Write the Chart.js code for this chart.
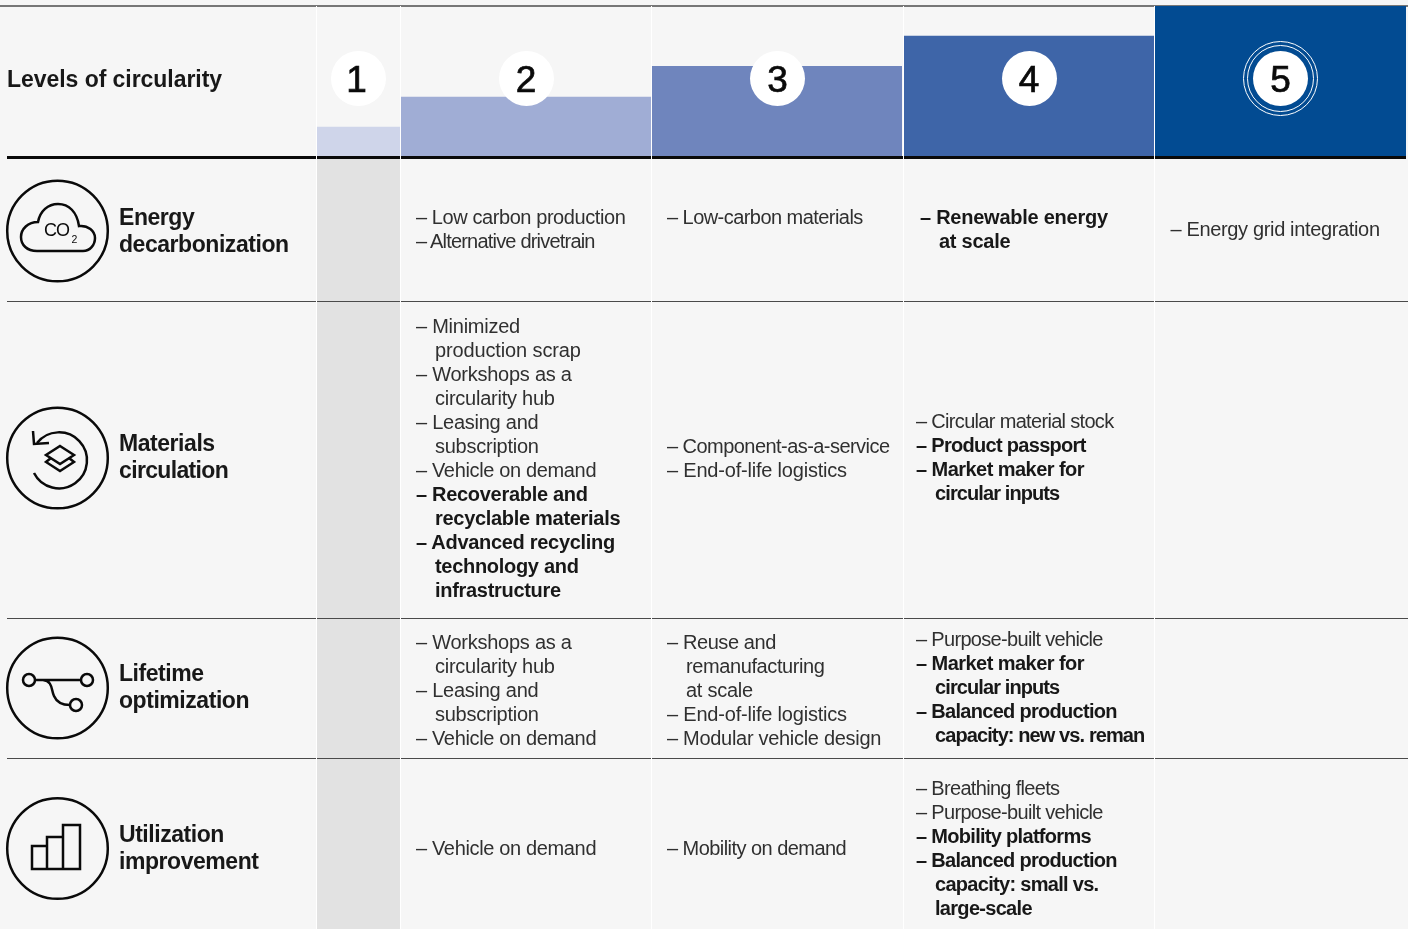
<!DOCTYPE html>
<html>
<head>
<meta charset="utf-8">
<title>Levels of circularity</title>
<script src="https://cdn.jsdelivr.net/npm/chart.js@4"></script>
<style>
    html, body { margin: 0; padding: 0; background: #f6f6f6; overflow: hidden; }
    #page { position: relative; width: 1408px; height: 929px; overflow: hidden;
            font-family: "Liberation Sans", sans-serif; color: #1c1c1c; }
    #page > * { position: absolute; }
    .rule { height: 1px; background: #4a4a4a; left: 7px; width: 1401px; }
    .gap { width: 1px; top: 6px; height: 923px; background: #fff; }
    .line { font-size: 20px; line-height: 24px; height: 24px; white-space: nowrap; color: #303030; }
    .line.bold { font-weight: bold; color: #181818; }
    .head { font-size: 23px; line-height: 27px; font-weight: bold; color: #181818; letter-spacing: -0.45px; white-space: nowrap; }
    .disc { width: 55px; height: 55px; border-radius: 50%; background: #fff; text-align: center;
            font-size: 37px; line-height: 57px; color: #0a0a0a; -webkit-text-stroke: 0.7px #0a0a0a; }
    .ring { border-radius: 50%; border: 1.5px solid #fff; box-sizing: border-box; }
    canvas { display: block; }
</style>
</head>
<body>
<div id="page">
    <div style="left:317px;top:157px;width:83px;height:772px;background:#e2e2e2"></div>
    <div style="left:0;top:5px;width:1408px;height:1.5px;background:#777"></div>
    <div id="bars"></div>
    <div style="left:7px;top:156px;width:1399px;height:2.5px;background:#0a0a0a"></div>
    <div class="rule" style="top:301px"></div>
    <div class="rule" style="top:618px"></div>
    <div class="rule" style="top:758px"></div>
    <svg style="left:0;top:0" width="1408" height="929" fill="none" stroke="#0a0a0a" stroke-width="2.5">
        <circle cx="57.5" cy="231" r="50.3"/>
        <circle cx="57.5" cy="458" r="50.3"/>
        <circle cx="57.5" cy="688" r="50.3"/>
        <circle cx="57.5" cy="848.5" r="50.3"/>
        <path d="M37 251C27 251 21 245 21 237C21 229 28 222 38 222C40 211 48 204 58 204C69 204 77 212 79 226C88 225 95 231 95 238C95 245 90 251 83 251Z"/>
        <text x="44" y="236" font-family="Liberation Sans" font-size="18" letter-spacing="-1" fill="#0a0a0a" stroke="none">CO</text>
        <text x="71.5" y="242.5" font-family="Liberation Sans" font-size="10.5" fill="#0a0a0a" stroke="none">2</text>
        <path d="M34 473A28 28 0 1 0 37 443"/>
        <path d="M33 431L34 444L49 443"/>
        <path d="M60 446L74 455L60 464L46 455Z"/>
        <path d="M51 458L46 462L60 471L74 462L69 458"/>
        <circle cx="29" cy="680" r="6"/>
        <circle cx="87" cy="680" r="6"/>
        <circle cx="76" cy="705" r="6"/>
        <path d="M35 680H81M43 680C53 681 51 690 54 696C57 703 63 705 70 705"/>
        <path d="M32 869V846H47V869ZM47 869V837H63V869ZM63 869V825H80V869Z"/>
    </svg>
</div>
<script>
    const levels = ['1', '2', '3', '4', '5'];
    const levelValues = [0.99, 1.98, 3, 4, 5];
    const levelColors = ['#cfd5ea', '#a0add5', '#6f85bd', '#3e65a8', '#024b92'];

    const title = 'Levels of circularity';
    const dimensions = [
        ['Energy', 'decarbonization'],
        ['Materials', 'circulation'],
        ['Lifetime', 'optimization'],
        ['Utilization', 'improvement']
    ];

    // '*' in front of a line = bold, '  ' = continuation line
    const energyCells = [
        ['– Low carbon production', '– Alternative drivetrain'],
        ['– Low-carbon materials'],
        ['*– Renewable energy', '*  at scale'],
        ['– Energy grid integration']
    ];
    const materialsCells = [
        ['– Minimized', '  production scrap', '– Workshops as a', '  circularity hub', '– Leasing and', '  subscription',
         '– Vehicle on demand', '*– Recoverable and', '*  recyclable materials', '*– Advanced recycling',
         '*  technology and', '*  infrastructure'],
        ['– Component-as-a-service', '– End-of-life logistics'],
        ['– Circular material stock', '*– Product passport', '*– Market maker for', '*  circular inputs'],
        []
    ];
    const lifetimeCells = [
        ['– Workshops as a', '  circularity hub', '– Leasing and', '  subscription', '– Vehicle on demand'],
        ['– Reuse and', '  remanufacturing', '  at scale', '– End-of-life logistics', '– Modular vehicle design'],
        ['– Purpose-built vehicle', '*– Market maker for', '*  circular inputs', '*– Balanced production', '*  capacity: new vs. reman'],
        []
    ];
    const utilizationCells = [
        ['– Vehicle on demand'],
        ['– Mobility on demand'],
        ['– Breathing fleets', '– Purpose-built vehicle', '*– Mobility platforms', '*– Balanced production',
         '*  capacity: small vs.', '*  large-scale'],
        []
    ];
    const cells = [energyCells, materialsCells, lifetimeCells, utilizationCells];

    // layout
    const colEdges = [[317, 400], [401, 651], [652, 902], [904, 1154], [1155, 1406]];
    const discCenters = [358, 526, 777.5, 1029, 1280.5];
    const gapXs = [316, 400, 651, 903, 1154];
    const textLefts = [416, 667, 916, 1170.5];
    const headTops = [204, 430, 660, 821];
    const cellTops = [
        [205, 205, 205, 217],
        [314, 434, 409, 0],
        [630, 630, 627, 0],
        [836, 836, 776, 0]
    ];
    // tracking per text column, the source font runs a bit wider in the left columns
    const regularSpacing = [-0.25, -0.4, -0.68, -0.35];
    const boldSpacing = [-0.3, -0.4, -0.7, -0.4];
    // single lines that still came out too wide or too narrow
    const lineSpacing = {
        'Low carbon production': -0.42,
        'Alternative drivetrain': -0.8,
        'Low-carbon materials': -0.55,
        'Component-as-a-service': -0.55,
        'Mobility on demand': -0.55,
        'End-of-life logistics': -0.2,
        'Modular vehicle design': -0.3,
        'Vehicle on demand': -0.35,
        'production scrap': -0.13,
        'Renewable energy': -0.25,
        'at scale': -0.25,
        'Market maker for': -0.55,
        'circular inputs': -0.9,
        'capacity: new vs. reman': -0.9
    };

    const page = document.getElementById('page');
    const bars = document.getElementById('bars');
    const contIndent = 19;

    function addDiv(className, text, left, top) {
        const el = document.createElement('div');
        el.className = className;
        el.textContent = text;
        el.style.left = left + 'px';
        el.style.top = top + 'px';
        page.appendChild(el);
        return el;
    }

    levels.forEach((level, i) => {
        const [x0, x1] = colEdges[i];
        const canvas = document.createElement('canvas');
        canvas.width = x1 - x0;
        canvas.height = 151;
        canvas.style.cssText = `position:absolute;left:${x0}px;top:6px`;
        bars.appendChild(canvas);

        new Chart(canvas.getContext('2d'), {
            type: 'bar',
            data: {
                labels: [level],
                datasets: [{
                    data: [levelValues[i]],
                    backgroundColor: levelColors[i],
                    borderWidth: 0,
                    barPercentage: 1,
                    categoryPercentage: 1
                }]
            },
            options: {
                responsive: false,
                animation: false,
                layout: { padding: 0 },
                plugins: { legend: { display: false }, tooltip: { enabled: false } },
                scales: {
                    x: { display: false },
                    y: { display: false, min: 0, max: 5 }
                }
            }
        });
    });

    gapXs.forEach(x => addDiv('gap', '', x, 6));

    levels.forEach((level, i) => {
        const cx = discCenters[i];
        const disc = addDiv('disc', level, cx - 27.5, 50.5);
        if (i === 0) disc.style.textIndent = '-3px';
        if (i === 4) {
            [33.5, 37.5].forEach(r => {
                const ring = addDiv('ring', '', cx - r, 78 - r);
                ring.style.width = ring.style.height = (r * 2) + 'px';
            });
        }
    });

    const titleEl = addDiv('head', title, 7, 66);
    titleEl.style.letterSpacing = '-0.05px';

    dimensions.forEach((lines, row) => {
        lines.forEach((text, k) => {
            const el = addDiv('head', text, 119, headTops[row] + k * 27);
            if (text === 'circulation') el.style.letterSpacing = '-0.65px';
        });
        cells[row].forEach((cell, col) => {
            let left = textLefts[col];
            if (row === 0 && col === 2) left = 920;
            cell.forEach((raw, k) => {
                const bold = raw.startsWith('*');
                const text = bold ? raw.slice(1) : raw;
                const cont = text.startsWith('  ');
                const label = text.trim();
                const el = addDiv('line' + (bold ? ' bold' : ''), label,
                    left + (cont ? contIndent : 0), cellTops[row][col] + k * 24);
                let spacing = bold ? boldSpacing[col] : regularSpacing[col];
                const key = label.replace('– ', '');
                if (key in lineSpacing) spacing = lineSpacing[key];
                el.style.letterSpacing = spacing + 'px';
            });
        });
    });
</script>
</body>
</html>
